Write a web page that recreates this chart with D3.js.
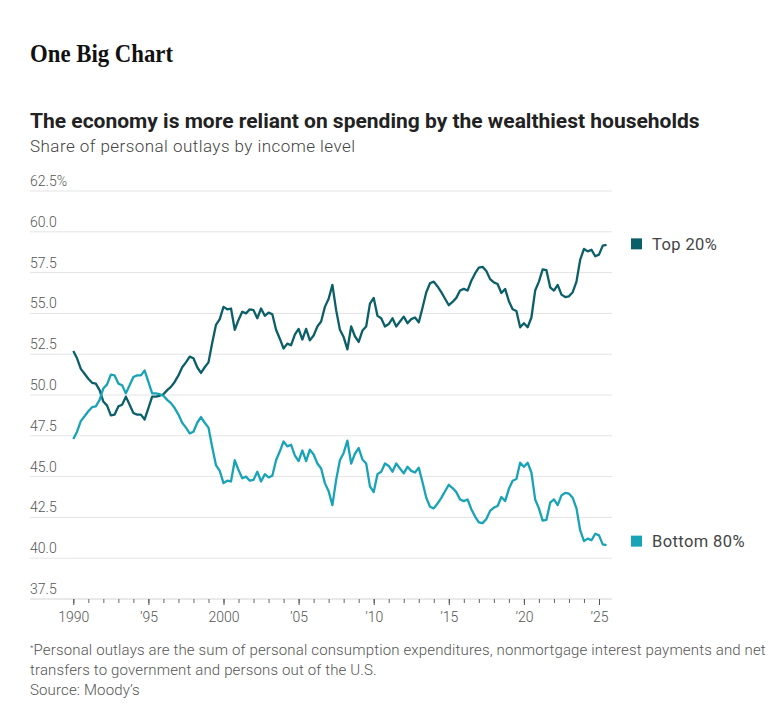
<!DOCTYPE html>
<html>
<head>
<meta charset="utf-8">
<script src="https://cdn.jsdelivr.net/npm/d3@7"></script>
<style>
  body { margin: 0; background: #fff; }
  svg { display: block; }
  text { font-family: Roboto, "Noto Sans", sans-serif; }
</style>
</head>
<body>
<div id="chart"></div>
<script>
// chart values (quarterly, one row per year)
let years = [1990, 1991, 1992, 1993, 1994, 1995, 1996, 1997, 1998, 1999,
    2000, 2001, 2002, 2003, 2004, 2005, 2006, 2007, 2008, 2009,
    2010, 2011, 2012, 2013, 2014, 2015, 2016, 2017, 2018, 2019,
    2020, 2021, 2022, 2023, 2024, 2025];

let top20 = [
    [52.7, 52.25, 51.6, 51.3], [51.0, 50.75, 50.7, 50.3], [49.6, 49.35, 48.75, 48.8],
    [49.3, 49.4, 49.9, 49.4], [48.9, 48.8, 48.8, 48.5], [49.2, 49.9, 49.9, 49.95],
    [50.05, 50.3, 50.5, 50.8], [51.2, 51.7, 52.0, 52.35], [52.25, 51.7, 51.35, 51.7],
    [52.0, 53.2, 54.3, 54.65], [55.4, 55.25, 55.3, 54.0], [54.6, 55.1, 55.0, 55.25],
    [55.2, 54.7, 55.3, 54.85], [55.05, 54.95, 54.0, 53.45], [52.85, 53.15, 53.05, 53.7],
    [54.05, 53.4, 54.05, 53.35], [53.65, 54.2, 54.5, 55.4], [55.9, 56.75, 55.2, 54.0],
    [53.55, 52.8, 54.2, 53.6], [53.25, 53.95, 54.2, 55.6], [55.95, 54.85, 54.7, 54.2],
    [54.35, 54.7, 54.2, 54.5], [54.8, 54.4, 54.65, 54.75], [54.45, 55.35, 56.3, 56.85],
    [56.95, 56.65, 56.3, 55.9], [55.5, 55.7, 55.95, 56.4], [56.5, 56.4, 57.0, 57.45],
    [57.8, 57.85, 57.6, 57.1], [56.9, 56.8, 56.25, 56.5], [55.75, 55.25, 55.15, 54.15],
    [54.4, 54.15, 54.75, 56.4], [56.95, 57.7, 57.65, 56.6], [56.4, 56.75, 56.15, 56.0],
    [56.05, 56.3, 56.95, 58.3], [58.95, 58.8, 58.9, 58.5], [58.6, 59.15, 59.2]
];

let bottom80 = [
    [47.3, 47.75, 48.4, 48.7], [49.0, 49.25, 49.3, 49.7], [50.4, 50.65, 51.25, 51.2],
    [50.7, 50.6, 50.1, 50.6], [51.1, 51.2, 51.2, 51.5], [50.8, 50.1, 50.1, 50.05],
    [49.95, 49.7, 49.5, 49.2], [48.8, 48.3, 48.0, 47.65], [47.75, 48.3, 48.65, 48.3],
    [48.0, 46.8, 45.7, 45.35], [44.6, 44.75, 44.7, 46.0], [45.4, 44.9, 45.0, 44.75],
    [44.8, 45.3, 44.7, 45.15], [44.95, 45.05, 46.0, 46.55], [47.15, 46.85, 46.95, 46.3],
    [45.95, 46.6, 45.95, 46.65], [46.35, 45.8, 45.5, 44.6], [44.1, 43.25, 44.8, 46.0],
    [46.45, 47.2, 45.8, 46.4], [46.75, 46.05, 45.8, 44.4], [44.05, 45.15, 45.3, 45.8],
    [45.65, 45.3, 45.8, 45.5], [45.2, 45.6, 45.35, 45.25], [45.55, 44.65, 43.7, 43.15],
    [43.05, 43.35, 43.7, 44.1], [44.5, 44.3, 44.05, 43.6], [43.5, 43.6, 43.0, 42.55],
    [42.2, 42.15, 42.4, 42.9], [43.1, 43.2, 43.75, 43.5], [44.25, 44.75, 44.85, 45.85],
    [45.6, 45.85, 45.25, 43.6], [43.05, 42.3, 42.35, 43.4], [43.6, 43.25, 43.85, 44.0],
    [43.95, 43.7, 43.05, 41.7], [41.05, 41.2, 41.1, 41.5], [41.4, 40.85, 40.8]
];

let seriesNames = ["Top 20%", "Bottom 80%"];
let seriesColors = ["#0b5f69", "#18a3b6"];

let yTicks = [37.5, 40.0, 42.5, 45.0, 47.5, 50.0, 52.5, 55.0, 57.5, 60.0, 62.5];
let xMajor = [1990, 1995, 2000, 2005, 2010, 2015, 2020, 2025];
let xMajorLabels = ["1990", "\u201995", "2000", "\u201905", "\u201910", "\u201915", "\u201920", "\u201925"];

// layout
let width = 780, height = 714;
let gridLeft = 30, gridRight = 612;

let svg = d3.select("#chart")
    .append("svg")
    .attr("width", width)
    .attr("height", height);

svg.append("rect").attr("width", width).attr("height", height).attr("fill", "#fff");

let x = d3.scaleLinear().domain([1990, 2025]).range([73.3, 599]);
let y = d3.scaleLinear().domain([37.5, 62.5]).range([599, 191]);

// headers
svg.append("text")
    .attr("x", 30).attr("y", 62)
    .attr("textLength", 143).attr("lengthAdjust", "spacingAndGlyphs")
    .style("font-family", "'Liberation Serif', 'DejaVu Serif', serif")
    .style("font-weight", 700).style("font-size", "25px").attr("fill", "#111")
    .text("One Big Chart");

svg.append("text")
    .attr("x", 30).attr("y", 128)
    .style("font-weight", 700).style("font-size", "21px").attr("fill", "#222")
    .text("The economy is more reliant on spending by the wealthiest households");

svg.append("text")
    .attr("x", 30).attr("y", 152)
    .style("font-weight", 300).style("font-size", "17px").style("letter-spacing", "0.45px")
    .attr("fill", "#444")
    .text("Share of personal outlays by income level");

// gridlines + y labels
let grid = svg.append("g");
grid.selectAll("line")
    .data(yTicks)
    .join("line")
    .attr("x1", gridLeft).attr("x2", gridRight)
    .attr("y1", d => y(d)).attr("y2", d => y(d))
    .attr("stroke", d => d === 37.5 ? "#d4d4d4" : "#e4e4e4")
    .attr("stroke-width", 1);

grid.selectAll("text")
    .data(yTicks)
    .join("text")
    .attr("x", gridLeft).attr("y", d => y(d) - 5)
    .style("font-size", "14px").style("font-weight", 300).attr("fill", "#555")
    .text(d => d === 62.5 ? "62.5%" : d.toFixed(1));

// x axis: yearly minor ticks, labelled ticks every 5 years
let minorAxis = svg.append("g")
    .attr("transform", `translate(0, ${y(37.5)})`)
    .call(d3.axisBottom(x).tickValues(d3.range(1990, 2026)).tickSize(4).tickFormat(""));
minorAxis.select(".domain").remove();
minorAxis.selectAll("line").attr("stroke", "#666");

let majorAxis = svg.append("g")
    .attr("transform", `translate(0, ${y(37.5)})`)
    .call(d3.axisBottom(x).tickValues(xMajor).tickSize(6).tickPadding(7)
        .tickFormat((d, i) => xMajorLabels[i]));
majorAxis.select(".domain").remove();
majorAxis.selectAll("line").attr("stroke", "#555");
majorAxis.selectAll("text")
    .style("font-family", "Roboto, sans-serif")
    .style("font-size", "14px").style("font-weight", 300).attr("fill", "#555");

// series -> points
function toPoints(rows) {
    let pts = [];
    rows.forEach((row, i) => {
        row.forEach((v, q) => pts.push({t: years[i] + q / 4, v: v}));
    });
    return pts;
}

let series = [toPoints(top20), toPoints(bottom80)];

let line = d3.line()
    .x(d => x(d.t))
    .y(d => y(d.v));

svg.append("g")
    .selectAll("path")
    .data(series)
    .join("path")
    .attr("d", line)
    .attr("fill", "none")
    .attr("stroke", (d, i) => seriesColors[i])
    .attr("stroke-width", 2.3)
    .attr("stroke-linejoin", "round");

// end labels
let legend = svg.append("g");
series.forEach((pts, i) => {
    let last = pts[pts.length - 1];
    let ly = y(last.v) + (i === 0 ? -1 : -4);
    legend.append("rect")
        .attr("x", 631).attr("y", ly - 5.5)
        .attr("width", 11).attr("height", 11)
        .attr("fill", seriesColors[i]);
    legend.append("text")
        .attr("x", 652).attr("y", ly)
        .attr("dy", "0.35em")
        .style("font-size", "16.5px").style("letter-spacing", "0.4px")
        .style("font-weight", 400).attr("fill", "#444")
        .text(seriesNames[i]);
});

// footnote
let notes = svg.append("g")
    .style("font-size", "15px").style("letter-spacing", "0.15px")
    .style("font-weight", 300).attr("fill", "#555");
let n1 = notes.append("text").attr("x", 30).attr("y", 655);
n1.append("tspan").attr("dy", "-5").style("font-size", "8px").text("*");
n1.append("tspan").attr("dy", "5")
    .text("Personal outlays are the sum of personal consumption expenditures, nonmortgage interest payments and net");
notes.append("text").attr("x", 30).attr("y", 675)
    .text("transfers to government and persons out of the U.S.");
notes.append("text").attr("x", 30).attr("y", 695)
    .text("Source: Moody\u2019s");
</script>
</body>
</html>
